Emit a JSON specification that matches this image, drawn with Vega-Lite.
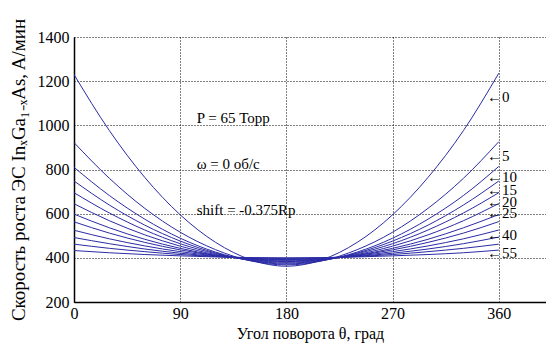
{
  "$schema": "https://vega.github.io/schema/vega-lite/v6.json",
  "width": 472,
  "height": 265,
  "autosize": {"type": "none"},
  "padding": {"left": 74, "top": 37, "right": 0, "bottom": 45},
  "background": "white",
  "config": {
    "view": {"stroke": null},
    "font": "Liberation Serif"
  },
  "datasets": {
    "curves": [
      {"s": 0, "t": 0, "v": 1230}, {"s": 0, "t": 30, "v": 976}, {"s": 0, "t": 60, "v": 764}, {"s": 0, "t": 90, "v": 595}, {"s": 0, "t": 120, "v": 470}, {"s": 0, "t": 150, "v": 391}, {"s": 0, "t": 180, "v": 362}, {"s": 0, "t": 210, "v": 391}, {"s": 0, "t": 240, "v": 470}, {"s": 0, "t": 270, "v": 595}, {"s": 0, "t": 300, "v": 764}, {"s": 0, "t": 330, "v": 976}, {"s": 0, "t": 360, "v": 1236},
      {"s": 5, "t": 0, "v": 922}, {"s": 5, "t": 30, "v": 760}, {"s": 5, "t": 60, "v": 624}, {"s": 5, "t": 90, "v": 516}, {"s": 5, "t": 120, "v": 437}, {"s": 5, "t": 150, "v": 386}, {"s": 5, "t": 180, "v": 368}, {"s": 5, "t": 210, "v": 386}, {"s": 5, "t": 240, "v": 437}, {"s": 5, "t": 270, "v": 516}, {"s": 5, "t": 300, "v": 624}, {"s": 5, "t": 330, "v": 760}, {"s": 5, "t": 360, "v": 926},
      {"s": 10, "t": 0, "v": 810}, {"s": 10, "t": 30, "v": 682}, {"s": 10, "t": 60, "v": 575}, {"s": 10, "t": 90, "v": 489}, {"s": 10, "t": 120, "v": 426}, {"s": 10, "t": 150, "v": 387}, {"s": 10, "t": 180, "v": 372}, {"s": 10, "t": 210, "v": 387}, {"s": 10, "t": 240, "v": 426}, {"s": 10, "t": 270, "v": 489}, {"s": 10, "t": 300, "v": 575}, {"s": 10, "t": 330, "v": 682}, {"s": 10, "t": 360, "v": 814},
      {"s": 15, "t": 0, "v": 748}, {"s": 15, "t": 30, "v": 639}, {"s": 15, "t": 60, "v": 548}, {"s": 15, "t": 90, "v": 476}, {"s": 15, "t": 120, "v": 422}, {"s": 15, "t": 150, "v": 388}, {"s": 15, "t": 180, "v": 376}, {"s": 15, "t": 210, "v": 388}, {"s": 15, "t": 240, "v": 422}, {"s": 15, "t": 270, "v": 476}, {"s": 15, "t": 300, "v": 548}, {"s": 15, "t": 330, "v": 639}, {"s": 15, "t": 360, "v": 748},
      {"s": 20, "t": 0, "v": 695}, {"s": 20, "t": 30, "v": 603}, {"s": 20, "t": 60, "v": 526}, {"s": 20, "t": 90, "v": 464}, {"s": 20, "t": 120, "v": 419}, {"s": 20, "t": 150, "v": 390}, {"s": 20, "t": 180, "v": 380}, {"s": 20, "t": 210, "v": 390}, {"s": 20, "t": 240, "v": 419}, {"s": 20, "t": 270, "v": 464}, {"s": 20, "t": 300, "v": 526}, {"s": 20, "t": 330, "v": 603}, {"s": 20, "t": 360, "v": 695},
      {"s": 25, "t": 0, "v": 645}, {"s": 25, "t": 30, "v": 568}, {"s": 25, "t": 60, "v": 504}, {"s": 25, "t": 90, "v": 453}, {"s": 25, "t": 120, "v": 415}, {"s": 25, "t": 150, "v": 392}, {"s": 25, "t": 180, "v": 383}, {"s": 25, "t": 210, "v": 392}, {"s": 25, "t": 240, "v": 415}, {"s": 25, "t": 270, "v": 453}, {"s": 25, "t": 300, "v": 504}, {"s": 25, "t": 330, "v": 568}, {"s": 25, "t": 360, "v": 646},
      {"s": 30, "t": 0, "v": 598}, {"s": 30, "t": 30, "v": 536}, {"s": 30, "t": 60, "v": 484}, {"s": 30, "t": 90, "v": 443}, {"s": 30, "t": 120, "v": 412}, {"s": 30, "t": 150, "v": 393}, {"s": 30, "t": 180, "v": 386}, {"s": 30, "t": 210, "v": 393}, {"s": 30, "t": 240, "v": 412}, {"s": 30, "t": 270, "v": 443}, {"s": 30, "t": 300, "v": 484}, {"s": 30, "t": 330, "v": 536}, {"s": 30, "t": 360, "v": 596},
      {"s": 35, "t": 0, "v": 563}, {"s": 35, "t": 30, "v": 512}, {"s": 35, "t": 60, "v": 470}, {"s": 35, "t": 90, "v": 436}, {"s": 35, "t": 120, "v": 411}, {"s": 35, "t": 150, "v": 395}, {"s": 35, "t": 180, "v": 389}, {"s": 35, "t": 210, "v": 395}, {"s": 35, "t": 240, "v": 411}, {"s": 35, "t": 270, "v": 436}, {"s": 35, "t": 300, "v": 470}, {"s": 35, "t": 330, "v": 512}, {"s": 35, "t": 360, "v": 564},
      {"s": 40, "t": 0, "v": 525}, {"s": 40, "t": 30, "v": 486}, {"s": 40, "t": 60, "v": 454}, {"s": 40, "t": 90, "v": 428}, {"s": 40, "t": 120, "v": 409}, {"s": 40, "t": 150, "v": 396}, {"s": 40, "t": 180, "v": 392}, {"s": 40, "t": 210, "v": 396}, {"s": 40, "t": 240, "v": 409}, {"s": 40, "t": 270, "v": 428}, {"s": 40, "t": 300, "v": 454}, {"s": 40, "t": 330, "v": 486}, {"s": 40, "t": 360, "v": 526},
      {"s": 45, "t": 0, "v": 492}, {"s": 45, "t": 30, "v": 464}, {"s": 45, "t": 60, "v": 440}, {"s": 45, "t": 90, "v": 421}, {"s": 45, "t": 120, "v": 407}, {"s": 45, "t": 150, "v": 398}, {"s": 45, "t": 180, "v": 395}, {"s": 45, "t": 210, "v": 398}, {"s": 45, "t": 240, "v": 407}, {"s": 45, "t": 270, "v": 421}, {"s": 45, "t": 300, "v": 440}, {"s": 45, "t": 330, "v": 464}, {"s": 45, "t": 360, "v": 494},
      {"s": 50, "t": 0, "v": 462}, {"s": 50, "t": 30, "v": 443}, {"s": 50, "t": 60, "v": 428}, {"s": 50, "t": 90, "v": 415}, {"s": 50, "t": 120, "v": 406}, {"s": 50, "t": 150, "v": 400}, {"s": 50, "t": 180, "v": 398}, {"s": 50, "t": 210, "v": 400}, {"s": 50, "t": 240, "v": 406}, {"s": 50, "t": 270, "v": 415}, {"s": 50, "t": 300, "v": 428}, {"s": 50, "t": 330, "v": 443}, {"s": 50, "t": 360, "v": 462},
      {"s": 55, "t": 0, "v": 433}, {"s": 55, "t": 30, "v": 423}, {"s": 55, "t": 60, "v": 415}, {"s": 55, "t": 90, "v": 409}, {"s": 55, "t": 120, "v": 404}, {"s": 55, "t": 150, "v": 401}, {"s": 55, "t": 180, "v": 400}, {"s": 55, "t": 210, "v": 401}, {"s": 55, "t": 240, "v": 404}, {"s": 55, "t": 270, "v": 409}, {"s": 55, "t": 300, "v": 415}, {"s": 55, "t": 330, "v": 423}, {"s": 55, "t": 360, "v": 435}
    ],
    "labels": [
      {"t": 350, "v": 1130, "label": "←0"},
      {"t": 350, "v": 859, "label": "←5"},
      {"t": 350, "v": 767, "label": "←10"},
      {"t": 350, "v": 707, "label": "←15"},
      {"t": 350, "v": 655, "label": "←20"},
      {"t": 350, "v": 603, "label": "←25"},
      {"t": 350, "v": 503, "label": "←40"},
      {"t": 350, "v": 424, "label": "←55"}
    ],
    "notes": [
      {"t": 104, "v": 1035, "label": "P = 65 Торр"},
      {"t": 104, "v": 825, "label": "ω = 0 об/с"},
      {"t": 104, "v": 618, "label": "shift = -0.375Rp"}
    ]
  },
  "layer": [
    {
      "data": {"name": "curves"},
      "mark": {"type": "line", "interpolate": "monotone", "color": "#2b2ba6", "strokeWidth": 1, "clip": true},
      "encoding": {
        "x": {
          "field": "t", "type": "quantitative",
          "scale": {"domain": [0, 400], "nice": false, "zero": false},
          "axis": {"values": [0, 90, 180, 270, 360], "format": "d", "title": "Угол поворота θ, град", "grid": true, "gridColor": "#000000", "gridDash": [1, 2], "gridOpacity": 1, "gridWidth": 1, "ticks": false, "labelPadding": 3, "titlePadding": 4, "labelFlush": false, "labelFont": "Liberation Serif", "titleFont": "Liberation Serif", "labelFontSize": 16, "titleFontSize": 16, "titleFontWeight": "normal", "labelColor": "black", "titleColor": "black", "domainColor": "black", "domainWidth": 1.5}
        },
        "y": {
          "field": "v", "type": "quantitative",
          "scale": {"domain": [200, 1400], "nice": false, "zero": false},
          "axis": {"values": [200, 400, 600, 800, 1000, 1200, 1400], "format": "d", "title": "Скорость роста  ЭС  InₓGa₁₋ₓAs, A/мин", "grid": true, "gridColor": "#000000", "gridDash": [1, 2], "gridOpacity": 1, "gridWidth": 1, "ticks": false, "labelPadding": 5, "titlePadding": 9, "labelFont": "Liberation Serif", "titleFont": "Liberation Serif", "labelFontSize": 16, "titleFontSize": 19, "titleFontWeight": "normal", "labelColor": "black", "titleColor": "black", "domainColor": "black", "domainWidth": 1.5}
        },
        "detail": {"field": "s", "type": "nominal"}
      }
    },
    {
      "data": {"name": "labels"},
      "mark": {"type": "text", "align": "left", "baseline": "middle", "fontSize": 15, "font": "Liberation Serif", "color": "black"},
      "encoding": {
        "x": {"field": "t", "type": "quantitative"},
        "y": {"field": "v", "type": "quantitative"},
        "text": {"field": "label"}
      }
    },
    {
      "data": {"name": "notes"},
      "mark": {"type": "text", "align": "left", "baseline": "middle", "fontSize": 15, "font": "Liberation Serif", "color": "black"},
      "encoding": {
        "x": {"field": "t", "type": "quantitative"},
        "y": {"field": "v", "type": "quantitative"},
        "text": {"field": "label"}
      }
    }
  ]
}
